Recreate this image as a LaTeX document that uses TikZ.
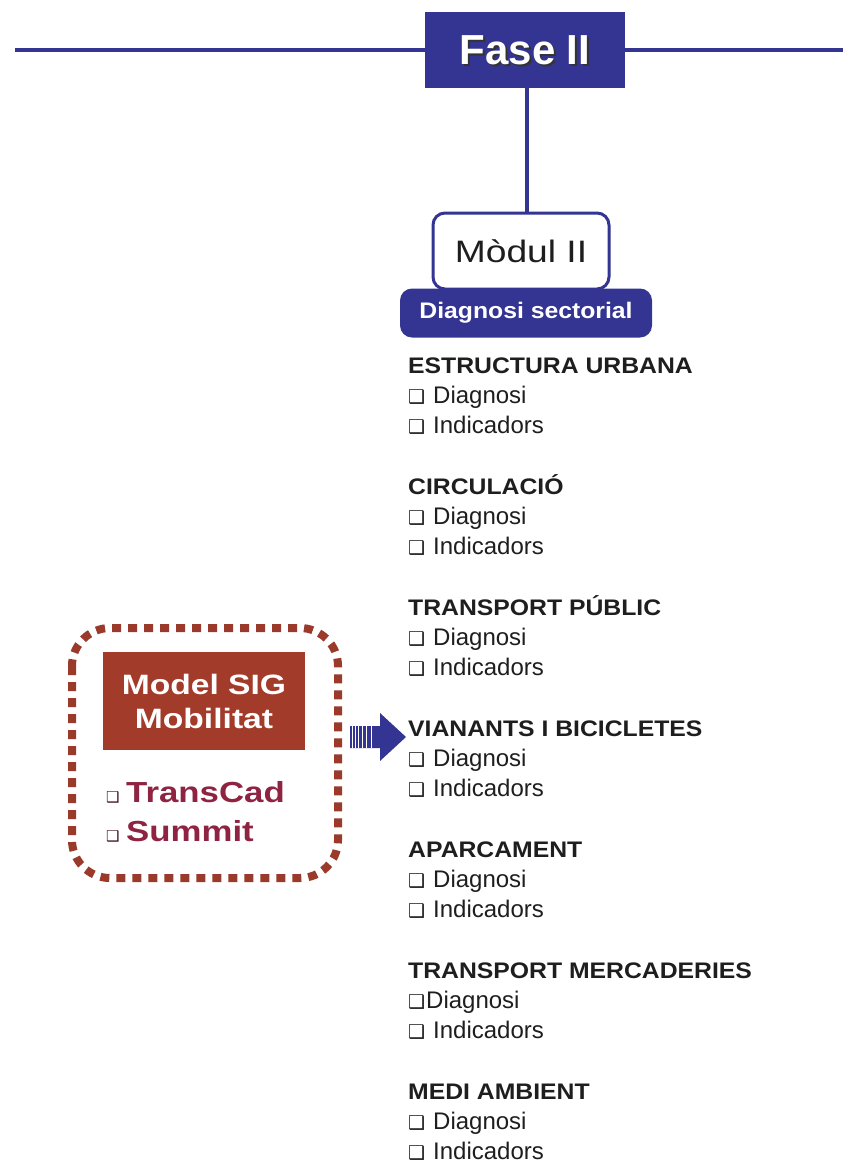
\documentclass[tikz,border=0pt]{standalone}
\usepackage{fontspec}
\setmainfont{Liberation Sans}
\newfontfamily\midsans[FakeStretch=1.1]{Liberation Sans}
\newfontfamily\widesans[FakeStretch=1.2]{Liberation Sans}
\newfontfamily\dvsans{DejaVu Sans}
\definecolor{navy}{RGB}{52,52,146}
\definecolor{brick}{RGB}{163,59,43}
\definecolor{brickdot}{RGB}{154,58,42}
\definecolor{maroon}{RGB}{142,36,66}
\definecolor{ink}{RGB}{30,30,30}
% checkbox bullet followed by its gap
\newcommand{\chk}[1][25pt]{\makebox[#1][l]{\dvsans\fontsize{19}{19}\selectfont ❑}}
\newcommand{\smallchk}{\makebox[20pt][l]{\dvsans\fontsize{15}{15}\selectfont\textcolor{maroon!45!black}{❑}}}
\tikzset{
  x=1pt, y=1pt,
  navyline/.style={draw=navy, line width=4pt},
  heading/.style={anchor=base west, inner sep=0pt, text=ink, font=\midsans\fontsize{22.5}{22.5}\selectfont\bfseries},
  item/.style={anchor=base west, inner sep=0pt, text=ink, font=\fontsize{24}{24}\selectfont},
  tool/.style={anchor=base west, inner sep=0pt, text=maroon, font=\widesans\fontsize{29}{29}\selectfont\bfseries},
}
\begin{document}
\begin{tikzpicture}
\useasboundingbox (0,0) rectangle (843,-1164);

% phase header
\node (fase) [fill=navy, minimum width=200pt, minimum height=76pt, inner sep=0pt] at (525,-50) {};
\coordinate (lineL) at (15,-50);
\coordinate (lineR) at (843,-50);
\draw[navyline] (lineL) -- (fase.west);
\draw[navyline] (fase.east) -- (lineR);
\node (faseshadow) [text=black!80, font=\fontsize{42}{42}\selectfont\bfseries] at (527,-52) {Fase II};
\node (fasetext) [text=white, font=\fontsize{42}{42}\selectfont\bfseries] at (525,-50) {Fase II};

% module
\node (diag) [fill=navy, rounded corners=12pt, minimum width=252pt, minimum height=49pt, inner sep=0pt,
  text=white, font=\midsans\fontsize{22.5}{22.5}\selectfont\bfseries] at (526,-313) {Diagnosi sectorial};
\node (modul) [draw=navy, line width=3pt, fill=white, rounded corners=12pt, minimum width=176pt,
  minimum height=76pt, inner sep=0pt, text=ink, font=\widesans\fontsize{31}{31}\selectfont] at (521,-251) {Mòdul II};
\draw[navyline] ([xshift=2pt]fase.south) -- ([xshift=2pt]fase.south |- modul.north);

% sector lists
\foreach \title [count=\i from 0] in {ESTRUCTURA URBANA, CIRCULACIÓ, TRANSPORT PÚBLIC,
    VIANANTS I BICICLETES, APARCAMENT, TRANSPORT MERCADERIES, MEDI AMBIENT} {
  \pgfmathsetmacro{\yb}{-373-121*\i}
  \node (head\i) [heading] at (408,\yb) {\title};
  \ifnum\i=5
    \node (diag\i) [item] at (408,\yb-30) {\chk[18pt]Diagnosi};
  \else
    \node (diag\i) [item] at (408,\yb-30) {\chk Diagnosi};
  \fi
  \node (ind\i) [item] at (408,\yb-60) {\chk Indicadors};
}

% GIS model panel
\draw[brickdot, line width=8pt, dash pattern=on 9pt off 7pt, rounded corners=38pt]
  (72,-628) rectangle (338,-878);
\node (sig) [fill=brick, minimum width=202pt, minimum height=98pt, inner sep=0pt, align=center,
  text=white, font=\widesans\fontsize{28}{34}\selectfont\bfseries] at (204,-701) {Model SIG\\Mobilitat};
\node (transcad) [tool] at (106,-802) {\smallchk TransCad};
\node (summit) [tool] at (106,-841) {\smallchk Summit};

% striped block arrow
\coordinate (arrowtip) at (406,-737);
\fill[navy] (350,-726) -- (380,-726) -- (380,-713) -- (arrowtip) -- (380,-761) -- (380,-748) -- (350,-748) -- cycle;
\foreach \sx in {352,355,358,362,366,371}
  \draw[white, line width=0.9pt] (\sx,-726) -- (\sx,-748);
\end{tikzpicture}
\end{document}
